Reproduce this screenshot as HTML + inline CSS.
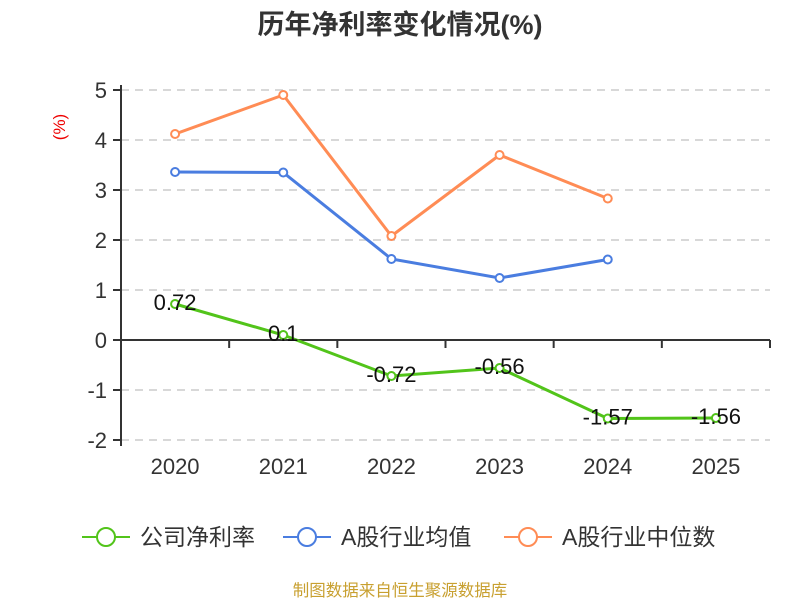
<!DOCTYPE html>
<html><head><meta charset="utf-8"><style>
body{margin:0;background:#fff;}
svg text{font-family:"Liberation Sans","Noto Sans CJK SC",sans-serif;}
</style></head><body>
<svg id="c" width="800" height="600" xmlns="http://www.w3.org/2000/svg">
<text x="400" y="34" text-anchor="middle" font-size="27" font-weight="bold" fill="#333">历年净利率变化情况(%)</text>
<text transform="translate(65,127) rotate(-90)" text-anchor="middle" font-size="17" fill="#e00">(%)</text>
<g id="grid"></g><g id="axes"></g><g id="series"></g>
<g>
<g><line x1="82" y1="537" x2="130" y2="537" stroke="#52c41a" stroke-width="2"/><circle cx="106" cy="537" r="9" fill="#fff" stroke="#52c41a" stroke-width="2"/><text x="140" y="545" font-size="23" fill="#333">公司净利率</text></g>
<g><line x1="283" y1="537" x2="331" y2="537" stroke="#4a7de0" stroke-width="2"/><circle cx="307" cy="537" r="9" fill="#fff" stroke="#4a7de0" stroke-width="2"/><text x="341" y="545" font-size="23" fill="#333">A股行业均值</text></g>
<g><line x1="504" y1="537" x2="552" y2="537" stroke="#ff8c55" stroke-width="2"/><circle cx="528" cy="537" r="9" fill="#fff" stroke="#ff8c55" stroke-width="2"/><text x="562" y="545" font-size="23" fill="#333">A股行业中位数</text></g>
</g>
<text x="400" y="596" text-anchor="middle" font-size="16.5" fill="#c8a030">制图数据来自恒生聚源数据库</text>
</svg>
<script>
const categories=["2020","2021","2022","2023","2024","2025"];
const companyVals=[0.72,0.1,-0.72,-0.56,-1.57,-1.56];
const avgVals=[3.36,3.35,1.62,1.24,1.61];
const medianVals=[4.12,4.9,2.08,3.7,2.83];
const yTicks=[-2,-1,0,1,2,3,4,5];
const NS="http://www.w3.org/2000/svg";
const L=121,R=770,band=(R-L)/categories.length;
const x=i=>L+band*(i+0.5);
const y=v=>340-v*50;
function mk(t,a,p){const e=document.createElementNS(NS,t);for(const k in a)e.setAttribute(k,a[k]);p.appendChild(e);return e;}
const grid=document.getElementById('grid'),axes=document.getElementById('axes'),ser=document.getElementById('series');
yTicks.forEach(v=>{
 if(v!==0){const g=mk('line',{x1:L,x2:R,y1:y(v),y2:y(v),stroke:'#ccc','stroke-dasharray':'8,6','stroke-width':1.5},grid);
 
 }
 const tk=mk('line',{x1:L-8,x2:L,y1:y(v),y2:y(v),stroke:'#333','stroke-width':2},axes);
 
 
 const t=mk('text',{x:L-14,y:y(v)+8,'text-anchor':'end','font-size':22,fill:'#333'},axes);t.textContent=v;
 
 
});
const ya=mk('line',{x1:L,x2:L,y1:85,y2:446,stroke:'#333','stroke-width':2},axes);


const xa=mk('line',{x1:L,x2:R,y1:y(0),y2:y(0),stroke:'#333','stroke-width':2},axes);


for(let i=0;i<=categories.length;i++){const t=mk('line',{x1:L+band*i,x2:L+band*i,y1:y(0),y2:y(0)+8,stroke:'#333','stroke-width':2},axes);
 
 }
categories.forEach((c,i)=>{const t=mk('text',{x:x(i),y:474,'text-anchor':'middle','font-size':22,fill:'#333'},axes);t.textContent=c;
 
 });
function line(vals,color,name,labels){
 const g=mk('g',{},ser);
 
 
 mk('polyline',{points:vals.map((v,i)=>x(i)+','+y(v)).join(' '),fill:'none',stroke:color,'stroke-width':3},g);
 vals.forEach((v,i)=>{const c=mk('circle',{cx:x(i),cy:y(v),r:4,fill:'#fff',stroke:color,'stroke-width':2},g);
  
  
  if(labels){const t=mk('text',{x:x(i),y:y(v)+6,'text-anchor':'middle','font-size':22,fill:'#111'},g);t.textContent=v;
   
   }});
}
line(medianVals,'#ff8c55','industry-median-line',false);
line(avgVals,'#4a7de0','industry-avg-line',false);
line(companyVals,'#52c41a','company-line',true);
</script>
</body></html>
